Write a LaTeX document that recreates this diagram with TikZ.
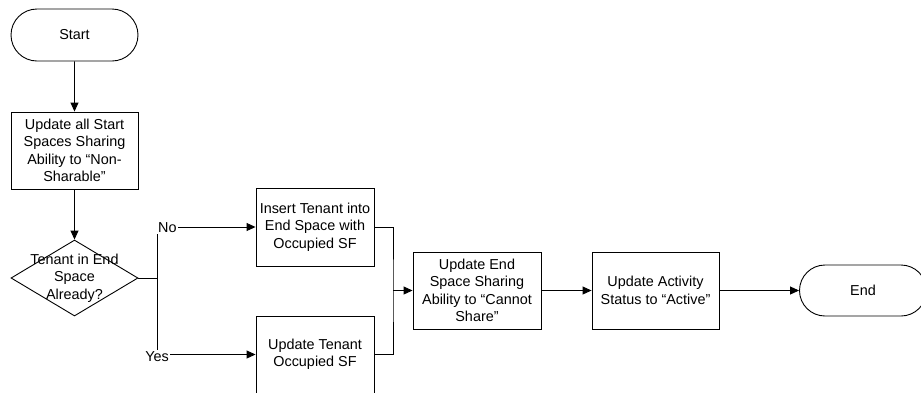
\documentclass[tikz,border=0pt]{standalone}
\usepackage{fontspec}
\setmainfont{Liberation Sans}
\usetikzlibrary{shapes.misc,shapes.geometric,arrows.meta}
\begin{document}
\begin{tikzpicture}[x=1pt,y=-1pt,
  every node/.style={font=\fontsize{14.4}{17.4}\selectfont, align=center, inner sep=0pt},
  flow/.style={line width=0.9pt, draw=black},
  arr/.style={flow, -{Triangle[length=9pt,width=8pt]}},
  term/.style={draw, line width=0.9pt, rounded rectangle, minimum width=127pt, minimum height=52pt},
  procbox/.style={draw, line width=0.9pt, rectangle, minimum width=#1, minimum height=77pt},
  procbox/.default=127pt,
  decision/.style={draw, line width=0.9pt, diamond, minimum width=127pt, minimum height=76pt},
  lbl/.style={fill=white, inner sep=1pt}]
\useasboundingbox (0,0) rectangle (921,392);

% nodes
\node[term] (start) at (74.5,35) {Start};
\node[procbox] (b1) at (74.5,150.5) {Update all Start\\Spaces Sharing\\Ability to “Non-\\Sharable”};
\node[decision, label={[align=center]center:Tenant in End\\Space\\Already?}] (dia) at (74.5,278) {};
\node[procbox=118pt, minimum height=78pt] (ins) at (315,227) {Insert Tenant into\\End Space with\\Occupied SF};
\node[procbox=118pt] (upd) at (315,354.5) {Update Tenant\\Occupied SF};
\node[procbox=128pt] (b3) at (477,290.5) {Update End\\Space Sharing\\Ability to “Cannot\\Share”};
\node[procbox] (b4) at (655.5,290.5) {Update Activity\\Status to “Active”};
\node[term, minimum height=51pt] (end) at (863,290.5) {End};

% connectors
\draw[arr] (start) -- (b1);
\draw[arr] (b1) -- (dia);
\coordinate (split) at (157,278);
\draw[flow] (dia.east) -- (split);
\draw[arr] (split) |- (ins.west) coordinate[pos=0.5] (nocorner);
\draw[arr] (split) |- (upd.west) coordinate[pos=0.5] (yescorner);
\node[lbl, anchor=west] at ([yshift=-0.5pt]nocorner) {No};
\node[lbl] at ([yshift=-2pt]yescorner) {Yes};

\coordinate (merge) at (393,290.5);
\draw[flow] (ins.east) -| (merge) |- (upd.east);
\draw[arr] (merge) -- (b3.west);
\draw[arr] (b3) -- (b4);
\draw[arr] (b4) -- (end);
\end{tikzpicture}
\end{document}
